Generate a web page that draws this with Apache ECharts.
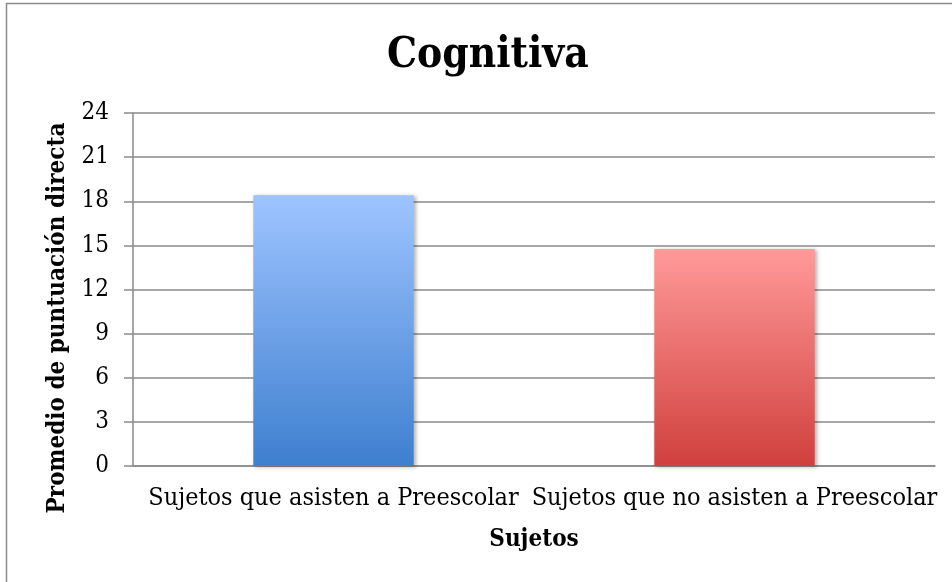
<!DOCTYPE html>
<html>
<head>
<meta charset="utf-8">
<script src="https://cdn.jsdelivr.net/npm/echarts@6/dist/echarts.min.js"></script>
<style>html,body{margin:0;padding:0;background:#fff}#c{width:952px;height:582px}</style>
</head>
<body>
<div id="c"></div>
<script>
var categories = ['Sujetos que asisten a Preescolar', 'Sujetos que no asisten a Preescolar'];
var values = [18.4, 14.75];
var yTicks = [0, 3, 6, 9, 12, 15, 18, 21, 24];
var titleText = 'Cognitiva';
var yName = 'Promedio de puntuación directa';
var xName = 'Sujetos';

var FONT = "'DejaVu Serif Condensed', 'DejaVu Serif'";
var gradients = [
  new echarts.graphic.LinearGradient(0, 0, 0, 1, [{offset: 0, color: '#9ec4ff'}, {offset: 1, color: '#3e7fcf'}]),
  new echarts.graphic.LinearGradient(0, 0, 0, 1, [{offset: 0, color: '#ff9a99'}, {offset: 1, color: '#d0403d'}])
];
var chart = echarts.init(document.getElementById('c'), null, {renderer: 'canvas'});
chart.setOption({
  animation: false,
  backgroundColor: '#fff',
  graphic: [{type: 'rect', shape: {x: 6.5, y: 3.5, width: 1000, height: 1000}, style: {fill: 'none', stroke: '#8a8a8a', lineWidth: 1.5}, z: 100}],
  title: {text: titleText, left: 382, top: 30, textStyle: {fontFamily: FONT, fontWeight: 'bold', fontSize: 42, color: '#000'}},
  grid: {left: 133, right: 17, top: 113, bottom: 116},
  xAxis: {
    type: 'category', data: categories,
    name: xName, nameLocation: 'middle', nameGap: 62,
    nameTextStyle: {fontFamily: FONT, fontWeight: 'bold', fontSize: 24, color: '#000'},
    axisLine: {lineStyle: {color: '#8a8a8a', width: 1.5}},
    axisTick: {show: false},
    axisLabel: {fontFamily: FONT, fontSize: 25, color: '#000', margin: 20, interval: 0}
  },
  yAxis: {
    type: 'value', min: yTicks[0], max: yTicks[yTicks.length - 1], interval: 3,
    name: yName, nameLocation: 'middle', nameGap: 63, nameRotate: 90,
    nameTextStyle: {fontFamily: FONT, fontWeight: 'bold', fontSize: 24, color: '#000', padding: [0, 57, 0, 0]},
    axisLine: {show: true, lineStyle: {color: '#8a8a8a', width: 1.5}},
    axisTick: {show: true, length: 9, lineStyle: {color: '#8a8a8a', width: 1.5}},
    axisLabel: {fontFamily: FONT, fontSize: 24, color: '#000', margin: 24},
    splitLine: {lineStyle: {color: '#8a8a8a', width: 1.5}}
  },
  series: [{
    type: 'bar', barWidth: '40%',
    data: values.map(function (v, i) {
      return {value: v, itemStyle: {color: gradients[i], shadowColor: 'rgba(0,0,0,0.3)', shadowBlur: 4, shadowOffsetX: 2, shadowOffsetY: 1}};
    })
  }]
});
</script>
</body>
</html>
